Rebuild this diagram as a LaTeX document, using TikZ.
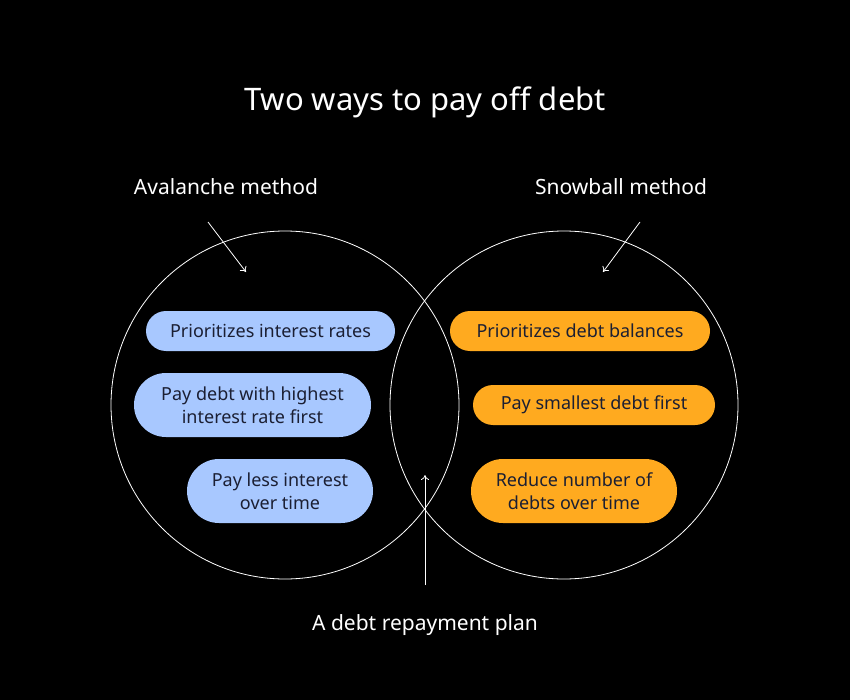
\documentclass[tikz,border=0pt]{standalone}
\usepackage{fontspec}
\setmainfont{Noto Sans}
\usetikzlibrary{arrows.meta}
\definecolor{bluep}{HTML}{A8C8FF}
\definecolor{orangep}{HTML}{FFAA1F}
\definecolor{pilltxt}{HTML}{1B1F33}
\begin{document}
\begin{tikzpicture}[x=1pt,y=-1pt,
  pill/.style={rounded corners=20pt,inner sep=0pt,text=pilltxt,font=\fontsize{18}{23}\selectfont,align=center},
  lbl/.style={text=white,font=\fontsize{21}{25}\selectfont},
  arr/.style={draw=white,line width=0.8pt,-{To[length=5pt,width=8pt]}}]
\fill[black] (0,0) rectangle (850,700);
\useasboundingbox (0,0) rectangle (850,700);
\node[text=white,font=\fontsize{31}{36}\selectfont] (title) at (425,102) {Two ways to pay off debt};
\draw[white,line width=0.8pt] (285,405) circle (174);
\draw[white,line width=0.8pt] (564,405) circle (174);
\node[lbl] (av) at (226,187) {Avalanche method};
\node[lbl] (sn) at (621,187) {Snowball method};
\node[lbl] (pl) at (425,625) {A debt repayment plan};
\coordinate (a1) at (208,222); \coordinate (a2) at (246,272);
\coordinate (b1) at (640,222); \coordinate (b2) at (603,272);
\coordinate (c1) at (425,585); \coordinate (c2) at (425,475);
\draw[arr] (a1) -- (a2);
\draw[arr] (b1) -- (b2);
\draw[arr] (c1) -- (c2);
\node[pill,fill=bluep,minimum width=249pt,minimum height=40pt] (p1) at (270.5,331) {Prioritizes interest rates};
\node[pill,fill=bluep,minimum width=237pt,minimum height=64pt,rounded corners=32pt] (p2) at (252.5,405) {Pay debt with highest\\interest rate first};
\node[pill,fill=bluep,minimum width=186pt,minimum height=64pt,rounded corners=32pt] (p3) at (280,491) {Pay less interest\\over time};
\node[pill,fill=orangep,minimum width=260pt,minimum height=40pt] (o1) at (580,331) {Prioritizes debt balances};
\node[pill,fill=orangep,minimum width=242pt,minimum height=40pt] (o2) at (594,405) {Pay smallest debt first};
\node[pill,fill=orangep,minimum width=206pt,minimum height=64pt,rounded corners=32pt] (o3) at (574,491) {Reduce number of\\debts over time};
\end{tikzpicture}
\end{document}
